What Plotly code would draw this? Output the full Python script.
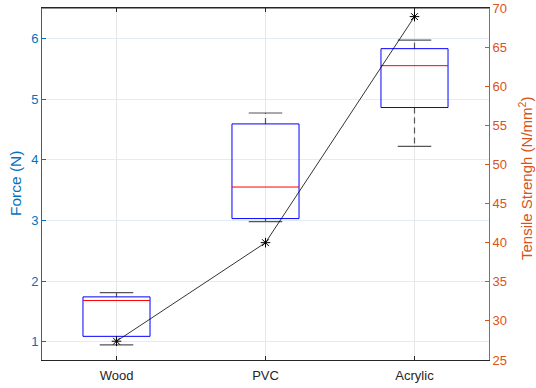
import plotly.graph_objects as go

categories = ["Wood", "PVC", "Acrylic"]
positions = [1, 2, 3]
lower_whisker = [0.95, 2.98, 4.22]
q1 = [1.09, 3.03, 4.86]
median = [1.68, 3.55, 5.55]
q3 = [1.74, 4.59, 5.83]
upper_whisker = [1.81, 4.77, 5.97]
tensile = [27.4, 40.0, 68.9]

half_w = 0.225
cap_w = 0.1125

box_x, box_y = [], []
med_x, med_y = [], []
wh_x, wh_y = [], []
cap_x, cap_y = [], []
for p, lo, a, m, b, hi in zip(positions, lower_whisker, q1, median, q3, upper_whisker):
    box_x += [p - half_w, p + half_w, p + half_w, p - half_w, p - half_w, None]
    box_y += [a, a, b, b, a, None]
    med_x += [p - half_w, p + half_w, None]
    med_y += [m, m, None]
    wh_x += [p, p, None, p, p, None]
    wh_y += [b, hi, None, a, lo, None]
    cap_x += [p - cap_w, p + cap_w, None, p - cap_w, p + cap_w, None]
    cap_y += [hi, hi, None, lo, lo, None]

fig = go.Figure()
fig.add_trace(go.Scatter(x=wh_x, y=wh_y, mode="lines",
                         line=dict(color="#555555", width=1.2, dash="6px,4px"),
                         hoverinfo="skip", showlegend=False))
fig.add_trace(go.Scatter(x=cap_x, y=cap_y, mode="lines",
                         line=dict(color="#555555", width=1.2),
                         hoverinfo="skip", showlegend=False))
fig.add_trace(go.Scatter(x=box_x, y=box_y, mode="lines",
                         line=dict(color="#0000FF", width=1),
                         hoverinfo="skip", showlegend=False))
fig.add_trace(go.Scatter(x=med_x, y=med_y, mode="lines",
                         line=dict(color="#FF0000", width=1),
                         hoverinfo="skip", showlegend=False))
fig.add_trace(go.Scatter(x=positions, y=tensile, mode="lines+markers", yaxis="y2",
                         line=dict(color="#000000", width=0.8),
                         marker=dict(symbol="asterisk-open", size=8,
                                     line=dict(color="#000000", width=1)),
                         showlegend=False))

blue = "#0072BD"
orange = "#D95319"
font = dict(family="Liberation Sans, Arial, sans-serif", size=13)

fig.update_layout(
    width=536, height=388,
    margin=dict(l=42, r=47, t=8, b=28),
    paper_bgcolor="white", plot_bgcolor="white",
    font=font,
    xaxis=dict(range=[0.5, 3.5], tickvals=positions, ticktext=categories,
               showgrid=True, gridcolor="#E6E6E6", gridwidth=1,
               showline=True, linecolor="#262626", linewidth=1, mirror="ticks",
               ticks="inside", ticklen=4, tickcolor="#262626",
               tickfont=dict(color="#262626", size=13), zeroline=False,
               ticklabelstandoff=3, automargin=False),
    yaxis=dict(range=[0.7, 6.5], dtick=1, tick0=0,
               showgrid=True, gridcolor="#E1ECF6", gridwidth=1,
               showline=True, linecolor=blue, linewidth=1,
               ticks="inside", ticklen=4, tickcolor=blue,
               tickfont=dict(color=blue, size=13), zeroline=False,
               automargin=False),
    yaxis2=dict(range=[25, 70], dtick=5, overlaying="y", side="right",
                showgrid=False, showline=True, linecolor=orange, linewidth=1,
                ticks="inside", ticklen=4, tickcolor=orange,
                tickfont=dict(color=orange, size=13), zeroline=False,
                automargin=False),
    annotations=[
        dict(text="Force (N)", xref="paper", yref="paper", x=0, y=0.5,
             xshift=-27, xanchor="center", yanchor="middle", textangle=-90,
             showarrow=False, font=dict(color=blue, size=15.5)),
        dict(text="Tensile Strengh (N/mm<sup>2</sup>)", xref="paper", yref="paper",
             x=1, y=0.5, xshift=36, yshift=5, xanchor="center", yanchor="middle",
             textangle=-90, showarrow=False, font=dict(color=orange, size=15)),
    ],
)

# top border line of the axes box
fig.add_shape(type="line", xref="paper", yref="paper", x0=0, x1=1, y0=1, y1=1,
              line=dict(color="#262626", width=1))

fig.write_html("out.html", config={"displayModeBar": False},
               post_script="document.body.style.margin='0';")
